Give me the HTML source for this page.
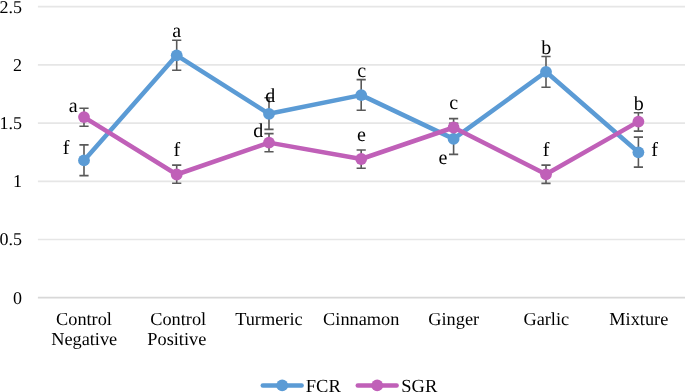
<!DOCTYPE html><html><head><meta charset="utf-8"><style>html,body{margin:0;padding:0;background:#fff;overflow:hidden}svg{display:block;will-change:transform}text{font-family:"Liberation Serif",serif;fill:#000;text-rendering:geometricPrecision}</style></head><body>
<svg width="685" height="392" viewBox="0 0 685 392">
<rect width="685" height="392" fill="#fff"/>
<line x1="37.9" y1="6.7" x2="685" y2="6.7" stroke="#e6e6e6" stroke-width="1.7"/>
<line x1="37.9" y1="64.9" x2="685" y2="64.9" stroke="#e6e6e6" stroke-width="1.7"/>
<line x1="37.9" y1="123.1" x2="685" y2="123.1" stroke="#e6e6e6" stroke-width="1.7"/>
<line x1="37.9" y1="181.3" x2="685" y2="181.3" stroke="#e6e6e6" stroke-width="1.7"/>
<line x1="37.9" y1="239.5" x2="685" y2="239.5" stroke="#e6e6e6" stroke-width="1.7"/>
<line x1="37.9" y1="297.7" x2="685" y2="297.7" stroke="#d8d8d8" stroke-width="1.7"/>
<text x="22" y="12.6" font-size="18" text-anchor="end">2.5</text>
<text x="22" y="70.8" font-size="18" text-anchor="end">2</text>
<text x="22" y="129.0" font-size="18" text-anchor="end">1.5</text>
<text x="22" y="187.2" font-size="18" text-anchor="end">1</text>
<text x="22" y="245.4" font-size="18" text-anchor="end">0.5</text>
<text x="22" y="303.6" font-size="18" text-anchor="end">0</text>
<text x="84" y="325.1" font-size="18.3" text-anchor="middle">Control</text>
<text x="84.2" y="345.3" font-size="18.3" text-anchor="middle">Negative</text>
<text x="178.2" y="325.1" font-size="18.3" text-anchor="middle">Control</text>
<text x="176.8" y="345.3" font-size="18.3" text-anchor="middle">Positive</text>
<text x="268.9" y="325.1" font-size="18.3" text-anchor="middle">Turmeric</text>
<text x="361.2" y="325.1" font-size="18.3" text-anchor="middle">Cinnamon</text>
<text x="453.7" y="325.1" font-size="18.3" text-anchor="middle">Ginger</text>
<text x="546.3" y="325.1" font-size="18.3" text-anchor="middle">Garlic</text>
<text x="638.8" y="325.1" font-size="18.3" text-anchor="middle">Mixture</text>
<path d="M84 144.9V175.6M79.4 144.9H88.6M79.4 175.6H88.6" stroke="#595959" stroke-width="1.6" fill="none"/>
<path d="M176.7 40.3V70.2M172.1 40.3H181.3M172.1 70.2H181.3" stroke="#595959" stroke-width="1.6" fill="none"/>
<path d="M269.0 97.8V129.4M264.4 97.8H273.6M264.4 129.4H273.6" stroke="#595959" stroke-width="1.6" fill="none"/>
<path d="M361.2 79.6V110.2M356.6 79.6H365.8M356.6 110.2H365.8" stroke="#595959" stroke-width="1.6" fill="none"/>
<path d="M453.6 123.4V154.4M449.0 123.4H458.2M449.0 154.4H458.2" stroke="#595959" stroke-width="1.6" fill="none"/>
<path d="M546 56.5V87.2M541.4 56.5H550.6M541.4 87.2H550.6" stroke="#595959" stroke-width="1.6" fill="none"/>
<path d="M638.4 137.1V167.1M633.8 137.1H643.0M633.8 167.1H643.0" stroke="#595959" stroke-width="1.6" fill="none"/>
<path d="M84 108.2V126.3M79.4 108.2H88.6M79.4 126.3H88.6" stroke="#595959" stroke-width="1.6" fill="none"/>
<path d="M176.7 165.1V183.2M172.1 165.1H181.3M172.1 183.2H181.3" stroke="#595959" stroke-width="1.6" fill="none"/>
<path d="M269.0 133.6V151.7M264.4 133.6H273.6M264.4 151.7H273.6" stroke="#595959" stroke-width="1.6" fill="none"/>
<path d="M361.2 150.0V168.2M356.6 150.0H365.8M356.6 168.2H365.8" stroke="#595959" stroke-width="1.6" fill="none"/>
<path d="M453.6 118.6V136.5M449.0 118.6H458.2M449.0 136.5H458.2" stroke="#595959" stroke-width="1.6" fill="none"/>
<path d="M546 165.1V183.4M541.4 165.1H550.6M541.4 183.4H550.6" stroke="#595959" stroke-width="1.6" fill="none"/>
<path d="M638.4 112.8V131.1M633.8 112.8H643.0M633.8 131.1H643.0" stroke="#595959" stroke-width="1.6" fill="none"/>
<polyline points="84,160.4 176.7,55.3 269.0,113.8 361.2,95.1 453.6,138.9 546,71.8 638.4,152.3" fill="none" stroke="#5B9BD5" stroke-width="4.5" stroke-linejoin="round" stroke-linecap="round"/>
<circle cx="84" cy="160.4" r="5.9" fill="#5B9BD5"/>
<circle cx="176.7" cy="55.3" r="5.9" fill="#5B9BD5"/>
<circle cx="269.0" cy="113.8" r="5.9" fill="#5B9BD5"/>
<circle cx="361.2" cy="95.1" r="5.9" fill="#5B9BD5"/>
<circle cx="453.6" cy="138.9" r="5.9" fill="#5B9BD5"/>
<circle cx="546" cy="71.8" r="5.9" fill="#5B9BD5"/>
<circle cx="638.4" cy="152.3" r="5.9" fill="#5B9BD5"/>
<polyline points="84,117.1 176.7,174.5 269.0,142.6 361.2,159.0 453.6,127.5 546,174.3 638.4,121.6" fill="none" stroke="#C060B8" stroke-width="4.5" stroke-linejoin="round" stroke-linecap="round"/>
<circle cx="84" cy="117.1" r="5.9" fill="#C060B8"/>
<circle cx="176.7" cy="174.5" r="5.9" fill="#C060B8"/>
<circle cx="269.0" cy="142.6" r="5.9" fill="#C060B8"/>
<circle cx="361.2" cy="159.0" r="5.9" fill="#C060B8"/>
<circle cx="453.6" cy="127.5" r="5.9" fill="#C060B8"/>
<circle cx="546" cy="174.3" r="5.9" fill="#C060B8"/>
<circle cx="638.4" cy="121.6" r="5.9" fill="#C060B8"/>
<text x="66.1" y="153.5" font-size="20" text-anchor="middle">f</text>
<text x="73.1" y="111.6" font-size="20" text-anchor="middle">a</text>
<text x="176.7" y="36.6" font-size="20" text-anchor="middle">a</text>
<text x="176.9" y="155.6" font-size="20" text-anchor="middle">f</text>
<text x="270.2" y="101.6" font-size="20" text-anchor="middle">d</text>
<text x="258.3" y="137.2" font-size="20" text-anchor="middle">d</text>
<text x="361.6" y="77.0" font-size="20" text-anchor="middle">c</text>
<text x="361.5" y="140.9" font-size="20" text-anchor="middle">e</text>
<text x="453.7" y="109.1" font-size="20" text-anchor="middle">c</text>
<text x="443.0" y="164.2" font-size="20" text-anchor="middle">e</text>
<text x="546.3" y="53.7" font-size="20" text-anchor="middle">b</text>
<text x="546.1" y="155.6" font-size="20" text-anchor="middle">f</text>
<text x="638.7" y="109.7" font-size="20" text-anchor="middle">b</text>
<text x="654.6" y="156.45" font-size="20" text-anchor="middle">f</text>
<line x1="262.8" y1="385.4" x2="301.6" y2="385.4" stroke="#5B9BD5" stroke-width="4.5" stroke-linecap="round"/>
<circle cx="282.2" cy="385.4" r="5.9" fill="#5B9BD5"/>
<text x="305.8" y="391.8" font-size="18.5">FCR</text>
<line x1="357.8" y1="385.4" x2="396.6" y2="385.4" stroke="#C060B8" stroke-width="4.5" stroke-linecap="round"/>
<circle cx="377.2" cy="385.4" r="5.9" fill="#C060B8"/>
<text x="401.3" y="391.8" font-size="18.5">SGR</text>
</svg></body></html>
